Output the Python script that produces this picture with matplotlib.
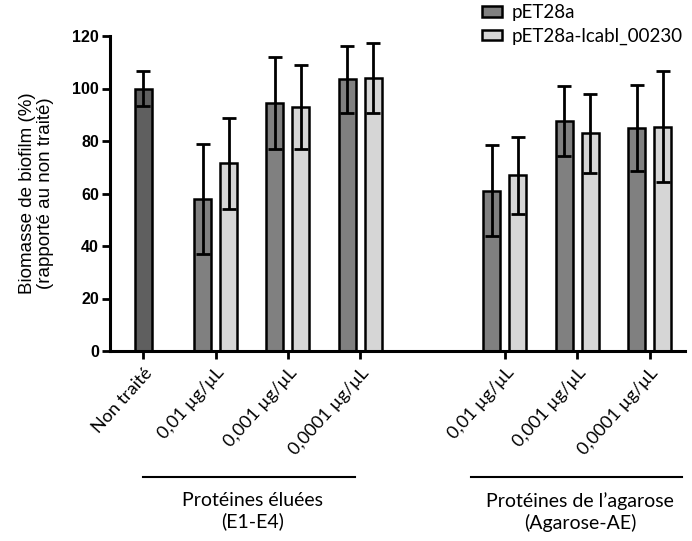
import matplotlib
matplotlib.use("Agg")
import matplotlib.pyplot as plt
from matplotlib.patches import Patch
from matplotlib.lines import Line2D
import matplotlib.transforms as mtransforms
import numpy as np

# ---- data ----
categories = ["Non traité", "0,01 µg/µL", "0,001 µg/µL", "0,0001 µg/µL",
              "0,01 µg/µL", "0,001 µg/µL", "0,0001 µg/µL"]
positions = [0, 1, 2, 3, 5, 6, 7]
ctrl_value = [100]
ctrl_err = [6.5]
pet_values = [58, 94.5, 103.5, 61, 87.5, 85]
pet_err = [21, 17.5, 12.7, 17.3, 13.3, 16.3]
lcabl_values = [71.5, 93, 104, 67, 83, 85.5]
lcabl_err = [17.3, 16, 13.5, 14.7, 15, 21]
series_names = ["pET28a", "pET28a-lcabl_00230"]
group_titles = ["Protéines éluées\n(E1-E4)", "Protéines de l\u2019agarose\n(Agarose-AE)"]
yticks = [0, 20, 40, 60, 80, 100, 120]

W, H = 692, 541
fig = plt.figure(figsize=(W / 100, H / 100), dpi=100)
ax = fig.add_axes([110 / W, 1 - 351 / H, (685 - 110) / W, (351 - 36) / H])

bw = 0.235
off = 0.18
ctrl_col = "#5f5f5f"
dark = "#808080"
light = "#d6d6d6"
ekw = dict(ecolor="black", elinewidth=2.0, capsize=5, capthick=2.0)

ax.bar(positions[:1], ctrl_value, width=bw, color=ctrl_col, edgecolor="black",
       linewidth=1.8, yerr=ctrl_err, error_kw=ekw, zorder=2)
gx = np.array(positions[1:], dtype=float)
ax.bar(gx - off, pet_values, width=bw, color=dark, edgecolor="black",
       linewidth=1.8, yerr=pet_err, error_kw=ekw, zorder=2)
ax.bar(gx + off, lcabl_values, width=bw, color=light, edgecolor="black",
       linewidth=1.8, yerr=lcabl_err, error_kw=ekw, zorder=2)

ax.set_xlim(-0.46, 7.49)
ax.set_ylim(0, 120)
ax.set_yticks(yticks)
ax.set_yticklabels([str(v) for v in yticks], fontfamily="Liberation Sans",
                   fontweight="bold", fontsize=11.5)
ax.set_xticks(positions)
ax.set_xticklabels(categories, rotation=48, ha="right", va="top",
                   rotation_mode="anchor", fontfamily="Lato", fontsize=13)
shift = mtransforms.ScaledTranslation(22 / 100, -12 / 100, fig.dpi_scale_trans)
for lab in ax.get_xticklabels():
    lab.set_transform(lab.get_transform() + shift)
for s in ["top", "right"]:
    ax.spines[s].set_visible(False)
for s in ["left", "bottom"]:
    ax.spines[s].set_linewidth(2.2)
ax.tick_params(axis="both", width=2.0, length=6, direction="out")
ax.tick_params(axis="x", pad=4)
ax.tick_params(axis="y", pad=2)

ax.set_ylabel("Biomasse de biofilm (%)\n(rapporté au non traité)",
              fontfamily="Liberation Sans", fontsize=13.5, labelpad=13,
              linespacing=1.1)

# group lines and titles
for (x0, x1, xc), title in zip([(143, 355, 253), (471, 682, 580)], group_titles):
    fig.add_artist(Line2D([x0 / W, x1 / W], [1 - 477 / H, 1 - 477 / H],
                          color="black", lw=1.5))
    fig.text(xc / W, 1 - 492 / H, title, ha="center", va="top",
             fontfamily="Lato", fontsize=14, linespacing=1.25)

handles = [Patch(facecolor=dark, edgecolor="black", linewidth=1.8),
           Patch(facecolor=light, edgecolor="black", linewidth=1.8)]
fig.legend(handles, series_names, loc="upper left",
           bbox_to_anchor=(482 / W, 1 - 4 / H), frameon=False,
           prop={"family": "Lato", "size": 13.5}, handlelength=1.05,
           handleheight=0.5, handletextpad=0.55, labelspacing=0.35,
           borderaxespad=0, borderpad=0)

fig.savefig("out.png", dpi=100)
